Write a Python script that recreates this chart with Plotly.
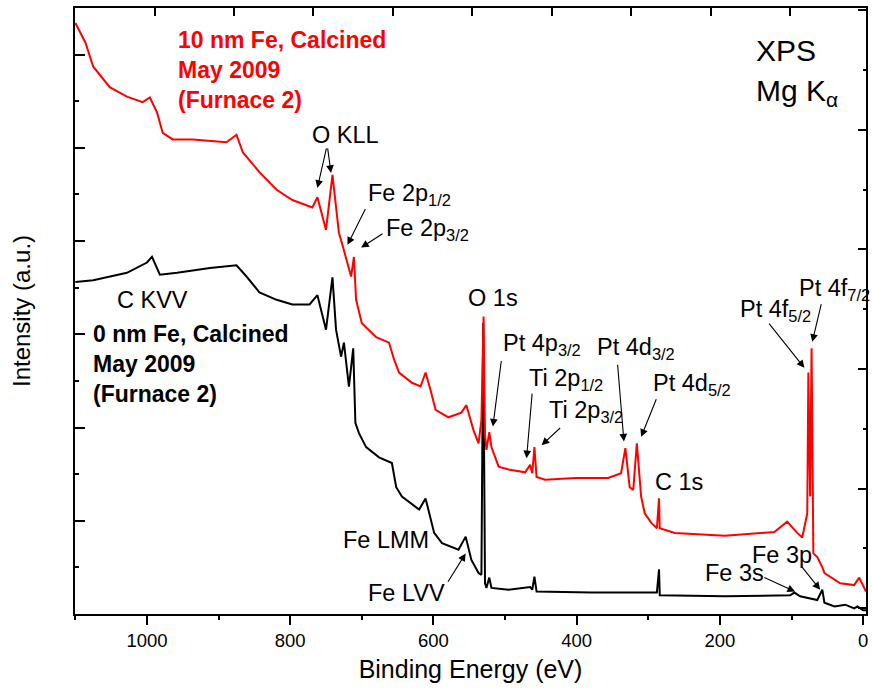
import plotly.graph_objects as go

# ---- XPS survey spectra (binding energy in eV, intensity in a.u.) ----
be_10nm = [1100, 1086, 1075, 1052, 1028, 1006, 996, 986, 978, 964, 936, 889, 875, 866,
           843, 819, 797, 769, 762, 750, 741, 732, 726, 715, 711, 708, 700, 680, 662,
           655, 648, 630, 618, 611, 604, 597, 579, 561, 554, 544, 537, 533, 530, 528,
           526, 522, 519, 509, 495, 472, 465, 462, 459, 456, 444, 402, 356, 338, 332,
           326, 321, 316, 310, 305, 296, 288, 285, 284, 263, 193, 124, 106, 92, 85,
           78, 76.5, 74, 72, 69.5, 64, 57, 54, 32, 12.5, 5.5, -4]
int_10nm = [6.34, 6.13, 5.87, 5.65, 5.55, 5.49, 5.54, 5.38, 5.16, 5.09, 5.09, 5.06, 5.14, 4.95,
            4.74, 4.55, 4.44, 4.36, 4.47, 4.12, 4.71, 4.09, 3.93, 3.62, 3.83, 3.37, 3.12, 2.97, 2.91,
            2.73, 2.59, 2.48, 2.44, 2.59, 2.40, 2.19, 2.11, 2.16, 2.24, 1.97, 1.83, 2.08, 3.19, 1.92,
            1.76, 1.95, 1.79, 1.58, 1.55, 1.52, 1.60, 1.51, 1.79, 1.47, 1.44, 1.46, 1.46, 1.51, 1.78,
            1.36, 1.33, 1.83, 1.26, 1.08, 0.98, 0.92, 1.24, 0.92, 0.87, 0.84, 0.88, 0.99, 0.87, 0.82,
            1.08, 2.59, 1.26, 2.85, 0.65, 0.61, 0.50, 0.44, 0.33, 0.31, 0.39, 0.24]

be_0nm = [1100, 1075, 1028, 1000, 993, 982, 958, 912, 875, 861, 843, 819, 797, 773, 762,
          750, 741, 736, 729, 725, 718, 712, 709, 704, 694, 676, 658, 652, 644, 620, 611,
          599, 588, 565, 555, 547, 537, 533, 530.5, 528, 526, 522, 519, 495, 465, 462, 459,
          456, 380, 288, 285, 284, 193, 102, 96, 88, 64, 57, 54, 40, 25, 12.5, 8, 0, -4]
int_0nm = [3.56, 3.58, 3.66, 3.77, 3.83, 3.64, 3.66, 3.71, 3.74, 3.62, 3.45, 3.37, 3.32, 3.32, 3.42,
           3.05, 3.61, 3.05, 2.76, 2.91, 2.44, 2.85, 2.05, 1.94, 1.79, 1.68, 1.62, 1.36, 1.26, 1.12, 1.24,
           0.87, 0.76, 0.69, 0.83, 0.58, 0.44, 0.42, 3.12, 0.33, 0.28, 0.39, 0.28, 0.26, 0.29, 0.26, 0.40,
           0.24, 0.23, 0.23, 0.48, 0.20, 0.19, 0.20, 0.23, 0.19, 0.15, 0.26, 0.12, 0.08, 0.10, 0.06, 0.08, 0.04, 0.04]

# ---- peak labels: text, label anchor (BE, intensity) ----
peak_labels = ["O KLL", "Fe 2p<sub>1/2</sub>", "Fe 2p<sub>3/2</sub>", "C KVV", "Fe LMM", "Fe LVV",
               "O 1s", "Pt 4p<sub>3/2</sub>", "Ti 2p<sub>1/2</sub>", "Ti 2p<sub>3/2</sub>",
               "Pt 4d<sub>3/2</sub>", "Pt 4d<sub>5/2</sub>", "C 1s", "Pt 4f<sub>5/2</sub>",
               "Pt 4f<sub>7/2</sub>", "Fe 3p", "Fe 3s"]
label_be = [773, 694, 669, 1044, 729, 694, 555, 506, 470, 442, 374, 296, 293, 175, 92, 158, 224]
label_int = [5.14, 4.50, 4.12, 3.37, 0.79, 0.23, 3.39, 2.89, 2.51, 2.17, 2.85, 2.46, 1.42, 3.26, 3.48, 0.63, 0.44]

# ---- arrows: tail (BE, intensity) -> head (BE, intensity) ----
arrow_tail_be = [749, 748, 694, 669, 581, 505, 462, 421, 343, 288, 133, 58, 88, 140]
arrow_tail_int = [5.01, 5.01, 4.36, 4.09, 0.33, 2.73, 2.38, 2.01, 2.69, 2.32, 3.13, 3.34, 0.53, 0.40]
arrow_head_be = [762, 743, 720, 701, 555, 517, 470, 449, 334, 310, 82, 71, 60, 95]
arrow_head_int = [4.57, 4.73, 3.96, 3.93, 0.65, 2.01, 1.67, 1.81, 1.85, 1.90, 2.64, 2.92, 0.26, 0.24]

FONT = "Liberation Sans, Arial, sans-serif"

fig = go.Figure()
fig.add_trace(go.Scatter(x=be_0nm, y=int_0nm, mode="lines", name="0 nm Fe",
                         line=dict(color="black", width=2), showlegend=False))
fig.add_trace(go.Scatter(x=be_10nm, y=int_10nm, mode="lines", name="10 nm Fe",
                         line=dict(color="#ff0000", width=2), showlegend=False))
# helper trace so the independent top/right tick axes are created
fig.add_trace(go.Scatter(x=[None], y=[None], xaxis="x2", yaxis="y2",
                         showlegend=False, hoverinfo="skip"))

annotations = []
for txt, bx, iy in zip(peak_labels, label_be, label_int):
    annotations.append(dict(x=bx, y=iy, xref="x", yref="y", text=txt, showarrow=False,
                            xanchor="left", yanchor="middle",
                            font=dict(family=FONT, size=23.5, color="black")))
for tb, ti, hb, hi in zip(arrow_tail_be, arrow_tail_int, arrow_head_be, arrow_head_int):
    annotations.append(dict(x=hb, y=hi, ax=tb, ay=ti, xref="x", yref="y", axref="x", ayref="y",
                            text="", showarrow=True, arrowhead=2, arrowsize=1.4,
                            arrowwidth=1.1, arrowcolor="black", standoff=0))

annotations += [
    dict(x=960, y=5.84, xref="x", yref="y", xanchor="left", yanchor="middle", showarrow=False,
         text="<b>10 nm Fe, Calcined<br>May 2009<br>(Furnace 2)</b>", align="left",
         font=dict(family=FONT, size=23, color="#ff0000")),
    dict(x=1078, y=2.68, xref="x", yref="y", xanchor="left", yanchor="middle", showarrow=False,
         text="<b>0 nm Fe, Calcined<br>May 2009<br>(Furnace 2)</b>", align="left",
         font=dict(family=FONT, size=23, color="black")),
    dict(x=152, y=6.04, xref="x", yref="y", xanchor="left", yanchor="middle", showarrow=False,
         text="XPS", font=dict(family=FONT, size=30, color="black")),
    dict(x=152, y=5.59, xref="x", yref="y", xanchor="left", yanchor="middle", showarrow=False,
         text="Mg K<sub>α</sub>", font=dict(family=FONT, size=30, color="black")),
]

fig.update_layout(
    width=872, height=691,
    margin=dict(l=75, r=4, t=8, b=77),
    paper_bgcolor="white", plot_bgcolor="white",
    font=dict(family=FONT, size=18, color="black"),
    annotations=annotations,
    xaxis=dict(range=[1100.5, -4], showgrid=False, zeroline=False,
               showline=True, linewidth=2, linecolor="black", mirror=True,
               ticks="outside", ticklen=9, tickwidth=1.5, tickcolor="black",
               tick0=0, dtick=200,
               minor=dict(ticks="outside", ticklen=4, tickwidth=1.5, tickcolor="black", dtick=100),
               tickfont=dict(family=FONT, size=18.5),
               title=dict(text="Binding Energy (eV)", font=dict(family=FONT, size=25), standoff=10)),
    yaxis=dict(range=[0, 6.5], showgrid=False, zeroline=False,
               showline=True, linewidth=2, linecolor="black", mirror=True,
               ticks="inside", ticklen=10, tickwidth=1.5, tickcolor="black",
               tick0=0, dtick=1, showticklabels=False,
               minor=dict(ticks="inside", ticklen=4, tickwidth=1.5, tickcolor="black", dtick=0.5),
               title=dict(text="Intensity (a.u.)", font=dict(family=FONT, size=24), standoff=36)),
    xaxis2=dict(overlaying="x", side="top", anchor="y", range=[0, 9.95],
                showgrid=False, zeroline=False, showline=False, showticklabels=False,
                ticks="inside", ticklen=8, tickwidth=1.5, tickcolor="black", tick0=0, dtick=1),
    yaxis2=dict(overlaying="y", side="right", anchor="x", range=[-0.05, 5.02],
                showgrid=False, zeroline=False, showline=False, showticklabels=False,
                ticks="inside", ticklen=8, tickwidth=1.5, tickcolor="black", tick0=0, dtick=1,
                minor=dict(ticks="inside", ticklen=3, tickwidth=1.5, tickcolor="black", dtick=0.5)),
)

fig.write_html("out.html")
